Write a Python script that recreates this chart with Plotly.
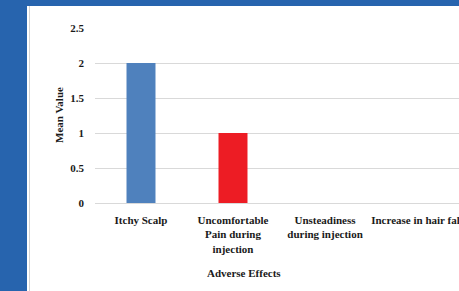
import plotly.graph_objects as go

categories = ["Itchy Scalp", "Uncomfortable<br>Pain during<br>injection",
              "Unsteadiness<br>during injection", "Increase in hair fall"]
values = [2, 1, 0, 0]
bar_colors = ["#4f81bd", "#ed1c24", "#4f81bd", "#4f81bd"]
y_ticks = [0, 0.5, 1, 1.5, 2, 2.5]
y_tick_labels = ["0", "0.5", "1", "1.5", "2", "2.5"]

W, H = 459, 291
L, R, T, B = 95, 0, 28, 88
pw = W - L - R
ph = H - T - B

def px(x):
    return (x - L) / pw

def py(y):
    return (H - B - y) / ph

FONT = "Liberation Serif"
blue = "#2764ae"
txt = "#1a1a1a"

fig = go.Figure(go.Bar(x=list(range(len(categories))), y=values,
                       marker=dict(color=bar_colors, line=dict(width=0))))

fig.update_layout(
    width=W, height=H,
    margin=dict(l=L, r=R, t=T, b=B, pad=0, autoexpand=False),
    paper_bgcolor="white", plot_bgcolor="white",
    bargap=0.685, showlegend=False,
    font=dict(family=FONT, size=11, color=txt),
    xaxis=dict(range=[-0.5, -0.5 + pw / 92.0], tickmode="array",
               tickvals=list(range(len(categories))), ticktext=categories,
               showgrid=False, zeroline=False, showline=False, ticks="",
               tickfont=dict(family=FONT, size=11, color=txt, weight="bold"),
               ticklabeloverflow="allow", automargin=False,
               ticklabelstandoff=9),
    yaxis=dict(range=[0, 2.5], tickmode="array", tickvals=y_ticks, ticktext=y_tick_labels,
               showgrid=True, gridcolor="#d9d9d9", gridwidth=1,
               zeroline=True, zerolinecolor="#d9d9d9", zerolinewidth=1,
               showline=False, ticks="", automargin=False,
               tickfont=dict(family=FONT, size=11, color=txt, weight="bold"),
               ticklabelstandoff=10),
    shapes=[
        dict(type="rect", xref="paper", yref="paper", x0=px(0), x1=px(27), y0=py(H), y1=py(0),
             fillcolor=blue, line=dict(width=0), layer="below"),
        dict(type="rect", xref="paper", yref="paper", x0=px(0), x1=px(W), y0=py(6), y1=py(0),
             fillcolor=blue, line=dict(width=0), layer="below"),
        dict(type="line", xref="paper", yref="paper", x0=px(29.5), x1=px(29.5), y0=py(H), y1=py(6),
             line=dict(color="#d4d4d4", width=1), layer="below"),
    ],
    annotations=[
        dict(text="Mean Value", xref="paper", yref="paper", x=px(59), y=py(115),
             textangle=-90, showarrow=False, xanchor="center", yanchor="middle",
             font=dict(family=FONT, size=11, color=txt, weight="bold")),
        dict(text="Adverse Effects", xref="paper", yref="paper", x=px(243.5), y=py(273),
             showarrow=False, xanchor="center", yanchor="middle",
             font=dict(family=FONT, size=11, color=txt, weight="bold")),
    ],
)

fig.write_html("out.html", config={"displayModeBar": False},
               post_script="document.body.style.margin='0';document.body.style.overflow='hidden';")
